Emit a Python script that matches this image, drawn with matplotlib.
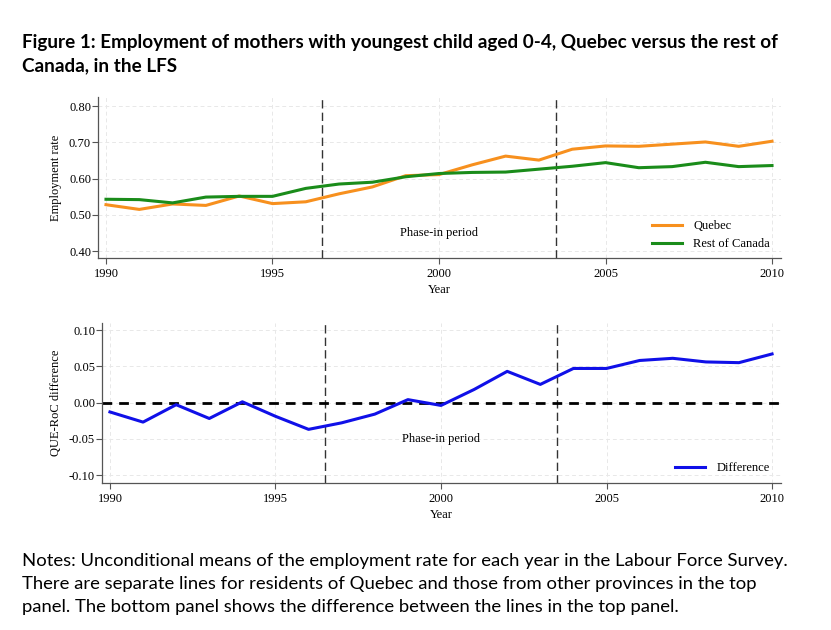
import matplotlib
matplotlib.use("Agg")
import matplotlib.pyplot as plt

years = list(range(1990, 2011))
quebec = [0.528, 0.515, 0.530, 0.526, 0.552, 0.531, 0.536, 0.558, 0.577, 0.608, 0.611,
          0.638, 0.662, 0.651, 0.681, 0.690, 0.689, 0.695, 0.701, 0.689, 0.703]
rest_of_canada = [0.543, 0.542, 0.533, 0.549, 0.551, 0.551, 0.573, 0.585, 0.590, 0.605, 0.614,
                  0.617, 0.618, 0.626, 0.634, 0.644, 0.630, 0.633, 0.645, 0.633, 0.636]
difference = [-0.013, -0.027, -0.003, -0.022, 0.001, -0.019, -0.037, -0.028, -0.016, 0.004, -0.004,
              0.018, 0.043, 0.025, 0.047, 0.047, 0.058, 0.061, 0.056, 0.055, 0.067]
phase_in = [1996.5, 2003.5]
x_ticks = [1990, 1995, 2000, 2005, 2010]
top_yticks = [0.40, 0.50, 0.60, 0.70, 0.80]
bottom_yticks = [-0.10, -0.05, 0.00, 0.05, 0.10]

title = ("Figure 1: Employment of mothers with youngest child aged 0-4, Quebec versus the rest of\n"
         "Canada, in the LFS")
notes = ("Notes: Unconditional means of the employment rate for each year in the Labour Force Survey.\n"
         "There are separate lines for residents of Quebec and those from other provinces in the top\n"
         "panel. The bottom panel shows the difference between the lines in the top panel.")

W, H = 831, 630
fig = plt.figure(figsize=(W / 100, H / 100), dpi=100)
serif = "Liberation Serif"
fs = 9


def px_axes(left, top, right, bottom):
    return fig.add_axes([left / W, (H - bottom) / H, (right - left) / W, (bottom - top) / H])


def style(ax, yticks, ylabel):
    for s in ["top", "right"]:
        ax.spines[s].set_visible(False)
    for s in ["left", "bottom"]:
        ax.spines[s].set_color("#555555")
        ax.spines[s].set_linewidth(0.9)
    ax.set_xlim(1989.76, 2010.27)
    ax.set_xticks(x_ticks)
    ax.set_yticks(yticks)
    ax.set_yticklabels(["%.2f" % v for v in yticks])
    ax.tick_params(direction="out", length=4, width=0.8, color="#555555", labelsize=fs)
    ax.tick_params(axis="x", pad=3)
    ax.tick_params(axis="y", pad=1)
    for lab in ax.get_xticklabels() + ax.get_yticklabels():
        lab.set_fontfamily(serif)
    ax.grid(True, color="#e8e8e8", linestyle=(0, (4, 3)), linewidth=0.7)
    ax.set_axisbelow(True)
    ax.set_xlabel("Year", fontfamily=serif, fontsize=fs, labelpad=3)
    ax.set_ylabel(ylabel, fontfamily=serif, fontsize=fs, labelpad=5)
    for xv in phase_in:
        ax.axvline(xv, color="#333333", linestyle=(0, (6, 3)), linewidth=1.0, zorder=1)


ax1 = px_axes(98, 97, 781, 258)
ax1.plot(years, quebec, color="#f7901e", linewidth=2.2, label="Quebec", zorder=3)
ax1.plot(years, rest_of_canada, color="#1a8c1a", linewidth=2.2, label="Rest of Canada", zorder=3)
ax1.set_ylim(0.381, 0.825)
style(ax1, top_yticks, "Employment rate")
ax1.text(2000, 0.45, "Phase-in period", ha="center", va="center", fontfamily=serif, fontsize=fs)
ax1.legend(loc="lower right", bbox_to_anchor=(1.0, -0.02), frameon=False,
           prop={"family": serif, "size": fs}, handlelength=2.4, handletextpad=0.9,
           labelspacing=0.45)

ax2 = px_axes(102, 323, 781, 483)
ax2.plot(years, difference, color="#1010e8", linewidth=2.2, label="Difference", zorder=3)
ax2.axhline(0, color="black", linestyle=(0, (3.5, 2.5)), linewidth=2.0, zorder=2)
ax2.set_ylim(-0.111, 0.1097)
style(ax2, bottom_yticks, "QUE-RoC difference")
ax2.text(2000, -0.05, "Phase-in period", ha="center", va="center", fontfamily=serif, fontsize=fs)
ax2.legend(loc="lower right", bbox_to_anchor=(1.0, -0.015), frameon=False,
           prop={"family": serif, "size": fs}, handlelength=2.4, handletextpad=0.9)

# va="baseline" on multi-line text anchors the last line
fig.text(22 / W, 1 - 71 / H, title, ha="left", va="baseline", fontfamily="Lato",
         fontweight="bold", fontsize=13.6, linespacing=1.4)
fig.text(22 / W, 1 - 612 / H, notes, ha="left", va="baseline", fontfamily="Lato",
         fontsize=13.3, linespacing=1.52)

fig.savefig("out.png", dpi=100)
